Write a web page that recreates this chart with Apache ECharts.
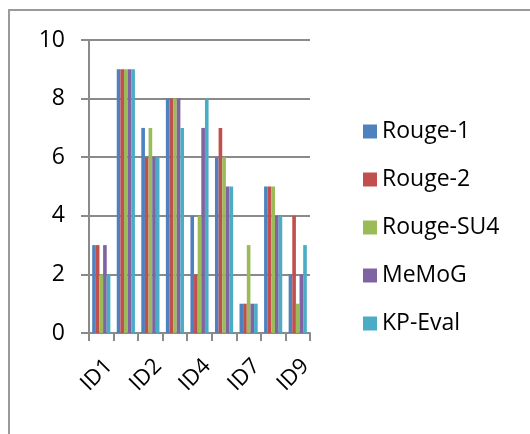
<!DOCTYPE html>
<html lang="en">

<head>
  <script src="https://cdn.jsdelivr.net/npm/echarts@6/dist/echarts.min.js"></script>
  <meta charset="UTF-8">
</head>

<body style="margin:0;background:#fff;">
  <div id="scoreChart" style="width: 530px;height:434px;"></div>

  <script type="text/javascript">

    var categories = ['ID1', 'ID10', 'ID2', 'ID3', 'ID4', 'ID5', 'ID7', 'ID8', 'ID9'];
    var rouge1 = [3, 9, 7, 8, 4, 6, 1, 5, 2];
    var rouge2 = [3, 9, 6, 8, 2, 7, 1, 5, 4];
    var rougeSU4 = [2, 9, 7, 8, 4, 6, 3, 5, 1];
    var memog = [3, 9, 6, 8, 7, 5, 1, 4, 2];
    var kpEval = [2, 9, 6, 7, 8, 5, 1, 4, 3];

    var fontFamily = '"Open Sans", sans-serif';
    var gridColor = '#8a8a8a';

    function barSeries(name, values, color) {
      return {
        name: name,
        type: 'bar',
        data: values,
        barGap: '0%',
        barCategoryGap: '26%',
        itemStyle: { color: color }
      };
    }

    function createScoreChart() {
      const chart = echarts.init(document.getElementById('scoreChart'));

      let option = {
        animation: false,
        color: ['#4F81BD', '#C0504D', '#9BBB59', '#8064A2', '#4BACC6'],
        graphic: [{
          type: 'rect',
          shape: { x: 9, y: 10, width: 600, height: 500 },
          style: { fill: 'none', stroke: '#9a9a9a', lineWidth: 2 },
          silent: true
        }],
        grid: {
          left: 89,
          top: 40,
          right: 220,
          bottom: 101
        },
        legend: {
          orient: 'vertical',
          left: 358,
          top: 115,
          itemWidth: 14,
          itemHeight: 14,
          itemGap: 25,
          icon: 'rect',
          textStyle: {
            fontFamily: fontFamily,
            fontSize: 23,
            lineHeight: 23,
            color: '#000'
          }
        },
        xAxis: {
          type: 'category',
          data: categories,
          axisLine: { lineStyle: { color: gridColor, width: 2 } },
          axisTick: { show: true, interval: 0, length: 8, lineStyle: { color: gridColor, width: 2 } },
          axisLabel: {
            interval: 1,
            rotate: 45,
            margin: 22,
            verticalAlign: 'top',
            fontFamily: fontFamily,
            fontSize: 22,
            color: '#000'
          }
        },
        yAxis: {
          type: 'value',
          min: 0,
          max: 10,
          interval: 2,
          axisLine: { show: true, lineStyle: { color: gridColor, width: 2 } },
          axisTick: { show: true, length: 8, lineStyle: { color: gridColor, width: 2 } },
          splitLine: { lineStyle: { color: gridColor, width: 2 } },
          axisLabel: {
            margin: 24,
            fontFamily: fontFamily,
            fontSize: 23,
            color: '#000'
          }
        },
        series: [
          barSeries('Rouge-1', rouge1, '#4F81BD'),
          barSeries('Rouge-2', rouge2, '#C0504D'),
          barSeries('Rouge-SU4', rougeSU4, '#9BBB59'),
          barSeries('MeMoG', memog, '#8064A2'),
          barSeries('KP-Eval', kpEval, '#4BACC6')
        ]
      };

      chart.setOption(option);
    }
    createScoreChart();
  </script>
</body>

</html>
